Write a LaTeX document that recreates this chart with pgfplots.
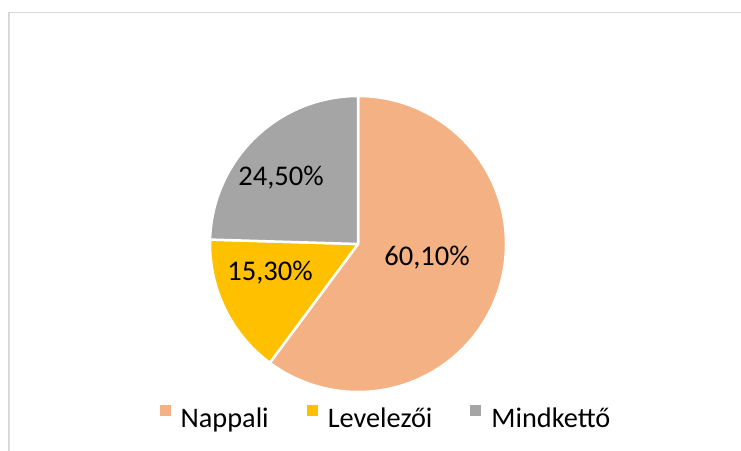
\documentclass[border=0pt]{standalone}
\usepackage{pgfplots}
\pgfplotsset{compat=1.18}
\usepackage{fontspec}
\setmainfont{Carlito}
\definecolor{cNap}{HTML}{F4B183}
\definecolor{cLev}{HTML}{FFC000}
\definecolor{cMin}{HTML}{A5A5A5}
\definecolor{cFrame}{HTML}{D9D9D9}
% data (percent)
\def\vNap{60.1}
\def\vLev{15.3}
\def\vMin{24.5}
\pgfmathsetmacro{\vTot}{\vNap+\vLev+\vMin}
\pgfmathsetmacro{\aA}{90}
\pgfmathsetmacro{\aB}{\aA-360*(\vNap/\vTot)}
\pgfmathsetmacro{\aC}{\aB-360*(\vLev/\vTot)}
\pgfmathsetmacro{\aD}{\aC-360*(\vMin/\vTot)}
\begin{document}
\begin{tikzpicture}[x=1pt,y=1pt]
\useasboundingbox (0,0) rectangle (741,450);
\begin{axis}[
  at={(0,0)}, anchor=south west,
  scale only axis, width=741pt, height=450pt,
  xmin=0, xmax=741, ymin=0, ymax=450,
  hide axis, clip=false,
  legend columns=3,
  legend image code/.code={\fill[#1, draw=none] (0pt,2.5pt) rectangle (11pt,13.5pt);},
  legend style={draw=none, fill=none, at={(axis cs:385,33)}, anchor=center,
    font=\fontsize{28.3}{32}\selectfont,
    nodes={inner sep=0pt},
    /tikz/every odd column/.append style={column sep=10pt},
    /tikz/every even column/.append style={column sep=38pt}},
]
\draw[cFrame, line width=1.5pt] (axis cs:9,-5) -- (axis cs:9,437.5) -- (axis cs:750,437.5);
\filldraw[fill=cNap, draw=white, line width=2.5pt, line join=round]
  (axis cs:358,206) -- (axis cs:358,354) arc[start angle=\aA, end angle=\aB, radius=148] -- cycle;
\filldraw[fill=cLev, draw=white, line width=2.5pt, line join=round]
  (axis cs:358,206) -- ++(\aB:148) arc[start angle=\aB, end angle=\aC, radius=148] -- cycle;
\filldraw[fill=cMin, draw=white, line width=2.5pt, line join=round]
  (axis cs:358,206) -- ++(\aC:148) arc[start angle=\aC, end angle=\aD, radius=148] -- cycle;
\node[font=\fontsize{28.5}{33}\selectfont] at (axis cs:427,192) {60,10\%};
\node[font=\fontsize{28.5}{33}\selectfont] at (axis cs:270,177.5) {15,30\%};
\node[font=\fontsize{28.5}{33}\selectfont] at (axis cs:281,272.5) {24,50\%};
\addlegendimage{fill=cNap}
\addlegendentry{Nappali}
\addlegendimage{fill=cLev}
\addlegendentry{Levelezői}
\addlegendimage{fill=cMin}
\addlegendentry{Mindkettő}
\end{axis}
\end{tikzpicture}
\end{document}
